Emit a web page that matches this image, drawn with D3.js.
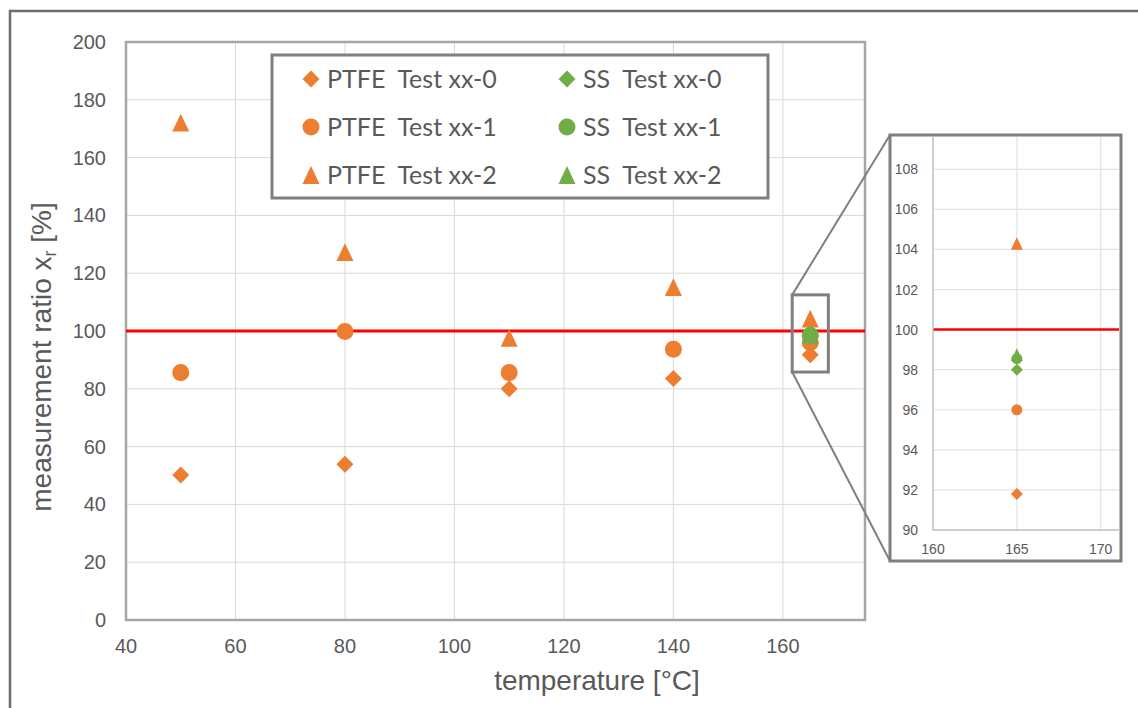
<!DOCTYPE html>
<html>
<head>
<meta charset="utf-8">
<script src="https://cdn.jsdelivr.net/npm/d3@7"></script>
<style>
  body { margin: 0; background: #fff; }
  svg { display: block; }
  text { font-family: "Liberation Sans", Arial, sans-serif; fill: #595959; }
  .legend text { font-family: Lato, "Open Sans", sans-serif; white-space: pre; }
</style>
</head>
<body>
<svg id="svg1" width="1138" height="708"></svg>
<script>
// data
var temps = [50, 80, 110, 140, 165];
var ptfe0 = [50.2, 53.9, 80.0, 83.6, 91.8];
var ptfe1 = [85.6, 99.8, 85.6, 93.7, 96.0];
var ptfe2 = [172.1, 127.3, 97.6, 115.2, 104.3];
var ssTemps = [165];
var ss0 = [98.0];
var ss1 = [98.55];
var ss2 = [98.75];

var xTicks = [40, 60, 80, 100, 120, 140, 160];
var yTicks = [0, 20, 40, 60, 80, 100, 120, 140, 160, 180, 200];
var insetXTicks = [160, 165, 170];
var insetYTicks = [90, 92, 94, 96, 98, 100, 102, 104, 106, 108];
var refValue = 100;

var legendLabels = ['PTFE  Test xx-0', 'PTFE  Test xx-1', 'PTFE  Test xx-2',
                    'SS  Test xx-0', 'SS  Test xx-1', 'SS  Test xx-2'];

var orange = '#ED7D31';
var green = '#70AD47';

var series = [
    {x: temps, y: ptfe0, shape: 'diamond', color: orange},
    {x: temps, y: ptfe1, shape: 'circle', color: orange},
    {x: temps, y: ptfe2, shape: 'triangle', color: orange},
    {x: ssTemps, y: ss0, shape: 'diamond', color: green},
    {x: ssTemps, y: ss1, shape: 'circle', color: green},
    {x: ssTemps, y: ss2, shape: 'triangle', color: green}
];

var svg = d3.select('svg');

// marker path, s = size in px
function marker(shape, s) {
    var h = s / 2;
    if (shape == 'diamond') return 'M0,' + (-h) + 'L' + h + ',0L0,' + h + 'L' + (-h) + ',0Z';
    if (shape == 'circle') return 'M' + (-h) + ',0A' + h + ',' + h + ' 0 1,0 ' + h + ',0A' + h + ',' + h + ' 0 1,0 ' + (-h) + ',0Z';
    return 'M0,' + (-h * 1.05) + 'L' + h + ',' + (h * 1.05) + 'L' + (-h) + ',' + (h * 1.05) + 'Z';
}

// outer frame (only left and top visible)
svg.append('path')
    .attr('d', 'M10,708L10,11L1138,11')
    .attr('fill', 'none')
    .attr('stroke', '#6e6e6e')
    .attr('stroke-width', 2.5);

// ---------- main chart ----------
var pLeft = 126, pRight = 865, pTop = 42, pBottom = 620;

var x = d3.scaleLinear().domain([40, 175]).range([pLeft, pRight]);
var y = d3.scaleLinear().domain([0, 200]).range([pBottom, pTop]);

var main = svg.append('g');

// grid
main.selectAll('.vgrid')
    .data(xTicks.slice(1))
    .enter().append('line')
    .attr('x1', function(d) { return x(d); })
    .attr('x2', function(d) { return x(d); })
    .attr('y1', pTop).attr('y2', pBottom)
    .attr('stroke', '#d9d9d9').attr('stroke-width', 1);

main.selectAll('.hgrid')
    .data(yTicks.slice(1))
    .enter().append('line')
    .attr('x1', pLeft).attr('x2', pRight)
    .attr('y1', function(d) { return y(d); })
    .attr('y2', function(d) { return y(d); })
    .attr('stroke', '#d9d9d9').attr('stroke-width', 1);

// plot border
main.append('rect')
    .attr('x', pLeft).attr('y', pTop)
    .attr('width', pRight - pLeft).attr('height', pBottom - pTop)
    .attr('fill', 'none')
    .attr('stroke', '#a6a6a6')
    .attr('stroke-width', 2.5);

// tick labels
main.selectAll('.xlab')
    .data(xTicks)
    .enter().append('text')
    .attr('x', function(d) { return x(d); })
    .attr('y', 653)
    .attr('text-anchor', 'middle')
    .style('font-size', '20px')
    .text(function(d) { return d; });

main.selectAll('.ylab')
    .data(yTicks)
    .enter().append('text')
    .attr('x', 106)
    .attr('y', function(d) { return y(d) + 7; })
    .attr('text-anchor', 'end')
    .style('font-size', '20px')
    .text(function(d) { return d; });

// axis titles
main.append('text')
    .attr('x', 597).attr('y', 690)
    .attr('text-anchor', 'middle')
    .style('font-size', '28px')
    .text('temperature [°C]');

var yTitle = main.append('text')
    .attr('transform', 'translate(51,357) rotate(-90)')
    .attr('text-anchor', 'middle')
    .style('font-size', '28px');
yTitle.append('tspan').text('measurement ratio x');
yTitle.append('tspan').attr('dy', 5).style('font-size', '18px').text('r');
yTitle.append('tspan').attr('dy', -5).text(' [%]');

// reference line
main.append('line')
    .attr('x1', pLeft).attr('x2', pRight)
    .attr('y1', y(refValue)).attr('y2', y(refValue))
    .attr('stroke', '#ff0000').attr('stroke-width', 3);

// points
series.forEach(function(s) {
    main.selectAll(null)
        .data(s.y)
        .enter().append('path')
        .attr('d', marker(s.shape, 17))
        .attr('fill', s.color)
        .attr('transform', function(d, i) {
            return 'translate(' + x(s.x[i]) + ',' + y(d) + ')';
        });
});

// zoom box around the 165 °C points
var zx0 = x(161.7), zx1 = x(168.3), zy0 = y(112.5), zy1 = y(85.8);
main.append('rect')
    .attr('x', zx0).attr('y', zy0)
    .attr('width', zx1 - zx0).attr('height', zy1 - zy0)
    .attr('fill', 'none')
    .attr('stroke', '#7f7f7f')
    .attr('stroke-width', 3);

// ---------- inset ----------
var fx0 = 890, fy0 = 135, fx1 = 1121, fy1 = 561;
var iLeft = 933, iBottom = 530, iTop = 137, iRight = 1119;

var ix = d3.scaleLinear().domain([160, 170]).range([iLeft, 1100.7]);
var iy = d3.scaleLinear().domain([90, 108]).range([iBottom, 169.3]);

// connector lines
svg.append('line')
    .attr('x1', zx0).attr('y1', zy0).attr('x2', fx0).attr('y2', fy0)
    .attr('stroke', '#7f7f7f').attr('stroke-width', 2);
svg.append('line')
    .attr('x1', zx0).attr('y1', zy1).attr('x2', fx0).attr('y2', fy1)
    .attr('stroke', '#7f7f7f').attr('stroke-width', 2);

var inset = svg.append('g');

inset.append('rect')
    .attr('x', fx0).attr('y', fy0)
    .attr('width', fx1 - fx0).attr('height', fy1 - fy0)
    .attr('fill', '#fff');

svg.append('clipPath').attr('id', 'insetClip')
    .append('rect')
    .attr('x', iLeft).attr('y', iTop)
    .attr('width', iRight - iLeft).attr('height', iBottom - iTop);

var plot = inset.append('g').attr('clip-path', 'url(#insetClip)');

plot.selectAll('.ivgrid')
    .data(insetXTicks.slice(1))
    .enter().append('line')
    .attr('x1', function(d) { return ix(d); })
    .attr('x2', function(d) { return ix(d); })
    .attr('y1', iTop).attr('y2', iBottom)
    .attr('stroke', '#e3e3e3').attr('stroke-width', 1.2);

plot.selectAll('.ihgrid')
    .data(insetYTicks.slice(1))
    .enter().append('line')
    .attr('x1', iLeft).attr('x2', iRight)
    .attr('y1', function(d) { return iy(d); })
    .attr('y2', function(d) { return iy(d); })
    .attr('stroke', '#e3e3e3').attr('stroke-width', 1.2);

plot.append('line')
    .attr('x1', iLeft).attr('x2', iRight)
    .attr('y1', iy(refValue)).attr('y2', iy(refValue))
    .attr('stroke', '#ff0000').attr('stroke-width', 2.5);

series.forEach(function(s) {
    plot.selectAll(null)
        .data(s.y)
        .enter().append('path')
        .attr('d', marker(s.shape, s.shape == 'circle' ? 11 : 12))
        .attr('fill', s.color)
        .attr('transform', function(d, i) {
            return 'translate(' + ix(s.x[i]) + ',' + iy(d) + ')';
        });
});

// inset axes lines
inset.append('path')
    .attr('d', 'M' + iLeft + ',' + iTop + 'L' + iLeft + ',' + iBottom + 'L' + iRight + ',' + iBottom)
    .attr('fill', 'none')
    .attr('stroke', '#bfbfbf')
    .attr('stroke-width', 1.5);

inset.selectAll('.ixlab')
    .data(insetXTicks)
    .enter().append('text')
    .attr('x', function(d) { return ix(d); })
    .attr('y', 554)
    .attr('text-anchor', 'middle')
    .style('font-size', '14px')
    .text(function(d) { return d; });

inset.selectAll('.iylab')
    .data(insetYTicks)
    .enter().append('text')
    .attr('x', 918)
    .attr('y', function(d) { return iy(d) + 5; })
    .attr('text-anchor', 'end')
    .style('font-size', '14px')
    .text(function(d) { return d; });

inset.append('rect')
    .attr('x', fx0).attr('y', fy0)
    .attr('width', fx1 - fx0).attr('height', fy1 - fy0)
    .attr('fill', 'none')
    .attr('stroke', '#7f7f7f')
    .attr('stroke-width', 3);

// ---------- legend ----------
var legend = svg.append('g').attr('class', 'legend');

legend.append('rect')
    .attr('x', 272).attr('y', 55)
    .attr('width', 496).attr('height', 143)
    .attr('fill', '#fff')
    .attr('stroke', '#7f7f7f')
    .attr('stroke-width', 3);

var colX = [311, 567];
var rowY = [79, 127, 175];

var items = legend.selectAll('.item')
    .data(series)
    .enter().append('g')
    .attr('transform', function(d, i) {
        return 'translate(' + colX[Math.floor(i / 3)] + ',' + rowY[i % 3] + ')';
    });

items.append('path')
    .attr('d', function(d) { return marker(d.shape, 17); })
    .attr('fill', function(d) { return d.color; });

items.append('text')
    .attr('x', 16)
    .attr('y', 9)
    .style('font-size', '25px')
    .text(function(d, i) { return legendLabels[i]; });
</script>
</body>
</html>
